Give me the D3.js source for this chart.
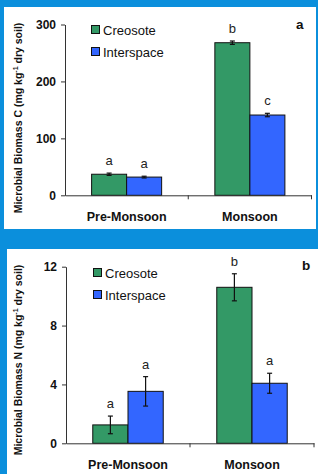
<!DOCTYPE html>
<html lang="en">
<head>
<meta charset="utf-8">
<title>Microbial biomass</title>
<script src="https://cdn.jsdelivr.net/npm/d3@7"></script>
<style>
  body { margin: 0; background: #0b8fdc; }
  svg { display: block; font-family: "Liberation Sans", Arial, sans-serif; }
</style>
</head>
<body>
<script>
// data
var seasons = ["Pre-Monsoon", "Monsoon"];
var sites = ["Creosote", "Interspace"];
var colors = ["#339966", "#3366ff"];

var carbonCreosote = [37, 268];
var carbonInterspace = [32, 141];
var carbonErrCreosote = [2, 3];
var carbonErrInterspace = [1.5, 3];
var carbonLetters = [["a", "a"], ["b", "c"]];
var carbonTicks = [0, 100, 200, 300];

var nitroCreosote = [1.25, 10.6];
var nitroInterspace = [3.53, 4.08];
var nitroErrCreosote = [0.6, 0.92];
var nitroErrInterspace = [1.0, 0.68];
var nitroLetters = [["a", "a"], ["b", "a"]];
var nitroTicks = [0, 4, 8, 12];

var W = 318, H = 474;
var svg = d3.select("body").append("svg").attr("width", W).attr("height", H);
svg.append("rect").attr("width", W).attr("height", H).attr("fill", "#0b8fdc");

function drawPanel(o) {
  var g = svg.append("g");
  g.append("rect")
    .attr("x", o.box[0]).attr("y", o.box[1])
    .attr("width", o.box[2]).attr("height", o.box[3])
    .attr("fill", "white");

  var y = d3.scaleLinear().domain([0, o.max]).range([o.y0, o.y1]);
  var x = d3.scaleBand().domain(seasons).range([o.x0, o.x1]);
  var xs = d3.scaleBand().domain(sites).range([0, x.bandwidth()]).paddingOuter(0.76);

  // bars
  seasons.forEach(function(s, i) {
    sites.forEach(function(site, j) {
      var v = j === 0 ? o.creo[i] : o.inter[i];
      var e = j === 0 ? o.errCreo[i] : o.errInter[i];
      var bx = x(s) + xs(site);
      g.append("rect")
        .attr("x", bx).attr("y", y(v))
        .attr("width", xs.bandwidth()).attr("height", y(0) - y(v))
        .attr("fill", colors[j]).attr("stroke", "#111").attr("stroke-width", 1);
      var cx = bx + xs.bandwidth() / 2;
      g.append("line").attr("x1", cx).attr("x2", cx)
        .attr("y1", y(v + e)).attr("y2", y(v - e))
        .attr("stroke", "#111").attr("stroke-width", 1.2);
      [v + e, v - e].forEach(function(t) {
        g.append("line").attr("x1", cx - 2.5).attr("x2", cx + 2.5)
          .attr("y1", y(t)).attr("y2", y(t))
          .attr("stroke", "#111").attr("stroke-width", 1.2);
      });
      g.append("text")
        .attr("x", cx).attr("y", y(v + e) - 8)
        .attr("text-anchor", "middle")
        .attr("font-size", 13).attr("fill", "#222")
        .text(o.letters[i][j]);
    });
  });

  // y axis
  var ya = g.append("g").attr("transform", "translate(" + o.x0 + ",0)")
    .call(d3.axisLeft(y).tickValues(o.ticks).tickSize(4).tickSizeOuter(0).tickPadding(5));
  ya.select(".domain").attr("stroke", "#333");
  ya.selectAll(".tick line").attr("stroke", "#333");
  ya.selectAll("text").attr("font-size", 12).attr("font-weight", "bold")
    .attr("fill", "#111").attr("font-family", "Liberation Sans, Arial, sans-serif");

  // x axis
  var xa = g.append("g").attr("transform", "translate(0," + o.y0 + ")")
    .call(d3.axisBottom(x).tickSize(0).tickPadding(17));
  xa.select(".domain").attr("stroke", "#333");
  xa.selectAll("text").attr("font-size", 12.5).attr("font-weight", "bold")
    .attr("fill", "#111").attr("font-family", "Liberation Sans, Arial, sans-serif");
  [x.range()[0] + x.step(), x.range()[1]].forEach(function(tx) {
    g.append("line").attr("x1", tx).attr("x2", tx)
      .attr("y1", o.y0).attr("y2", o.y0 + 4).attr("stroke", "#333");
  });

  // y label
  var lab = g.append("text")
    .attr("transform", "translate(" + o.labX + "," + o.labY + ") rotate(-90)")
    .attr("text-anchor", "middle")
    .attr("font-size", 10.5).attr("font-weight", "bold").attr("fill", "#111");
  lab.append("tspan").text(o.label + " (mg kg");
  lab.append("tspan").attr("font-size", 7).attr("dy", -4).text("-1");
  lab.append("tspan").attr("dy", 4).text(" dry soil)");

  // legend
  sites.forEach(function(site, j) {
    var ly = o.legY + j * 22;
    g.append("rect").attr("x", o.legX).attr("y", ly)
      .attr("width", 8).attr("height", 8)
      .attr("fill", colors[j]).attr("stroke", "#111").attr("stroke-width", 1);
    g.append("text").attr("x", o.legX + 11.5).attr("y", ly + 9)
      .attr("font-size", 13).attr("fill", "#111").text(site);
  });

  g.append("text").attr("x", o.tagX).attr("y", o.tagY)
    .attr("font-size", 13.5).attr("font-weight", "bold").attr("fill", "#111")
    .text(o.tag);
}

drawPanel({
  box: [4, 7, 312, 222],
  x0: 65, x1: 311.5, y0: 195.3, y1: 24.5, max: 300,
  creo: carbonCreosote, inter: carbonInterspace,
  errCreo: carbonErrCreosote, errInter: carbonErrInterspace,
  letters: carbonLetters, ticks: carbonTicks,
  label: "Microbial Biomass C",
  labX: 22, labY: 118,
  legX: 91.5, legY: 25.5,
  tagX: 296, tagY: 29, tag: "a"
});

drawPanel({
  box: [7, 249, 311, 225],
  x0: 66, x1: 314, y0: 443.3, y1: 266.7, max: 12,
  creo: nitroCreosote, inter: nitroInterspace,
  errCreo: nitroErrCreosote, errInter: nitroErrInterspace,
  letters: nitroLetters, ticks: nitroTicks,
  label: "Microbial Biomass N",
  labX: 22, labY: 360,
  legX: 93.5, legY: 268.5,
  tagX: 302, tagY: 270, tag: "b"
});
</script>
</body>
</html>
